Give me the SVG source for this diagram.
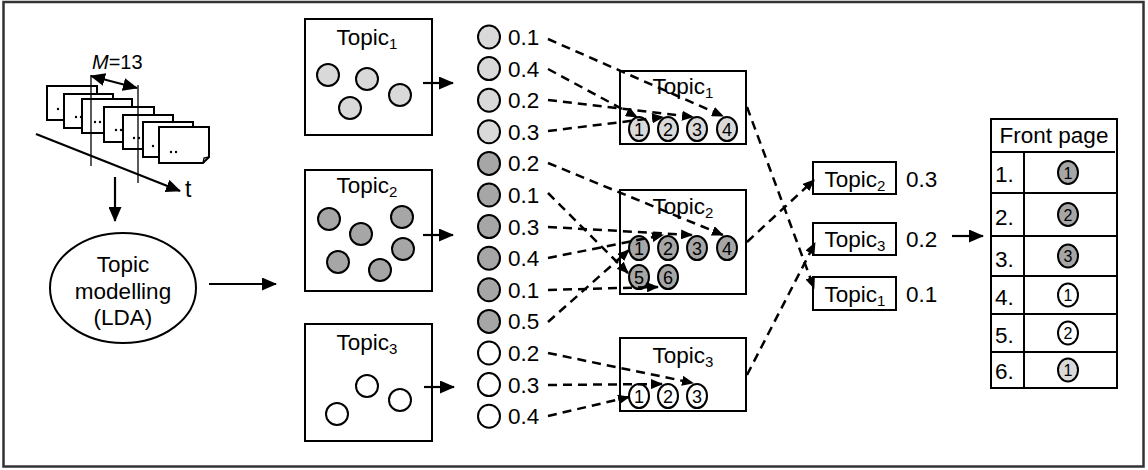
<svg xmlns="http://www.w3.org/2000/svg" width="1148" height="470" viewBox="0 0 1148 470">
  <style>
    text { font-family: "Liberation Sans", Arial, sans-serif; fill: #000; }
    .lbl { font-size: 22.5px; }
    .sub { font-size: 15px; }
    .num { font-size: 18px; text-anchor: middle; }
    .tnum { font-size: 16px; text-anchor: middle; }
    .box { fill: #fff; stroke: #000; stroke-width: 2; }
    .page { fill: #fff; stroke: #000; stroke-width: 2; }
    .light { fill: #d9d9d9; stroke: #000; stroke-width: 2; }
    .dark { fill: #a6a6a6; stroke: #000; stroke-width: 2; }
    .white { fill: #fff; stroke: #000; stroke-width: 2; }
    .solid { stroke: #000; stroke-width: 2.2; fill: none; marker-end: url(#arrow); }
    .dash { stroke: #000; stroke-width: 2.5; fill: none; stroke-dasharray: 9 6; marker-end: url(#arrowSmall); }
    .thin { stroke: #000; stroke-width: 1.3; fill: none; }
  </style>
  <defs>
    <marker id="arrow" markerUnits="userSpaceOnUse" viewBox="0 0 15 13" markerWidth="15" markerHeight="13" refX="14" refY="6.5" orient="auto-start-reverse">
      <path d="M0,0 L15,6.5 L0,13 Z" fill="#000"/>
    </marker>
    <marker id="arrowSmall" markerUnits="userSpaceOnUse" viewBox="0 0 12 10" markerWidth="12" markerHeight="10" refX="11" refY="5" orient="auto">
      <path d="M0,0 L12,5 L0,10 Z" fill="#000"/>
    </marker>
  </defs>

  <rect width="1148" height="470" fill="#fff"/>
  <!-- outer frame -->
  <rect x="3.5" y="2" width="1140" height="464.5" fill="none" stroke="#333" stroke-width="2.5"/>

  <!-- stream of documents over time -->
  <g id="documents">
    <line class="solid" x1="36" y1="134" x2="180" y2="191"/>
    <rect class="page" x="47" y="86" width="50" height="34"/>
    <rect class="page" x="64" y="94" width="49" height="34"/>
    <rect class="page" x="82" y="99" width="50" height="34"/>
    <rect class="page" x="104" y="107" width="50" height="35"/>
    <rect class="page" x="123" y="115" width="50" height="34"/>
    <rect class="page" x="143" y="122" width="50" height="35"/>
    <path class="page" d="M159,127 H209 V157 L203,163 H159 Z"/>
    <path class="thin" d="M203,163 L204,158 L209,157"/>
    <g fill="#000">
      <circle cx="58" cy="109" r="1.2"/>
      <circle cx="76" cy="117" r="1.2"/><circle cx="81" cy="117" r="1.2"/>
      <circle cx="95" cy="122" r="1.2"/><circle cx="100" cy="122" r="1.2"/>
      <circle cx="116" cy="130" r="1.2"/><circle cx="121" cy="130" r="1.2"/>
      <circle cx="134" cy="138" r="1.2"/><circle cx="139" cy="138" r="1.2"/>
      <circle cx="153" cy="146" r="1.2"/>
      <circle cx="171" cy="152" r="1.2"/><circle cx="176" cy="152" r="1.2"/>
    </g>
    <line class="thin" x1="91" y1="75" x2="91" y2="166"/>
    <line class="thin" x1="138" y1="85" x2="138" y2="183"/>
    <line stroke="#000" stroke-width="2" x1="91" y1="76" x2="137" y2="88" marker-start="url(#arrow)" marker-end="url(#arrow)"/>
    <text x="92" y="69" style="font-size:20px"><tspan font-style="italic">M</tspan>=13</text>
    <text x="185" y="197" style="font-size:23px">t</text>
    <line class="solid" x1="115" y1="177" x2="115" y2="221"/>
  </g>

  <!-- LDA topic model -->
  <g id="lda">
    <ellipse cx="123" cy="288" rx="73" ry="55" fill="#fff" stroke="#000" stroke-width="2"/>
    <text class="lbl" x="123" y="272" text-anchor="middle">Topic</text>
    <text class="lbl" x="123" y="299" text-anchor="middle">modelling</text>
    <text class="lbl" x="123" y="325" text-anchor="middle">(LDA)</text>
  </g>

  <!-- topics with their words -->
  <g id="topic1">
    <rect class="box" x="305" y="19" width="127" height="116"/>
    <text class="lbl" x="367" y="45" text-anchor="middle">Topic<tspan class="sub" dy="4">1</tspan></text>
    <circle class="light" cx="328" cy="75" r="11"/>
    <circle class="light" cx="367" cy="79" r="11"/>
    <circle class="light" cx="400" cy="95" r="11"/>
    <circle class="light" cx="350" cy="108" r="11"/>
  </g>
  <g id="topic2">
    <rect class="box" x="305" y="170" width="127" height="121"/>
    <text class="lbl" x="367" y="193" text-anchor="middle">Topic<tspan class="sub" dy="4">2</tspan></text>
    <circle class="dark" cx="329" cy="219" r="11"/>
    <circle class="dark" cx="402" cy="217" r="11"/>
    <circle class="dark" cx="361" cy="234" r="11"/>
    <circle class="dark" cx="403" cy="249" r="11"/>
    <circle class="dark" cx="338" cy="262" r="11"/>
    <circle class="dark" cx="380" cy="270" r="11"/>
  </g>
  <g id="topic3">
    <rect class="box" x="305" y="324" width="127" height="117"/>
    <text class="lbl" x="367" y="350" text-anchor="middle">Topic<tspan class="sub" dy="4">3</tspan></text>
    <circle class="white" cx="367" cy="386" r="11"/>
    <circle class="white" cx="400" cy="400" r="11"/>
    <circle class="white" cx="337" cy="414" r="11"/>
  </g>

  <!-- word probabilities -->
  <g id="word-probabilities">
    <ellipse class="light" cx="489" cy="37" rx="11" ry="11.5"/><text class="lbl" x="508" y="45">0.1</text>
    <ellipse class="light" cx="489" cy="68.6" rx="11" ry="11.5"/><text class="lbl" x="508" y="76.6">0.4</text>
    <ellipse class="light" cx="489" cy="100.2" rx="11" ry="11.5"/><text class="lbl" x="508" y="108.2">0.2</text>
    <ellipse class="light" cx="489" cy="131.8" rx="11" ry="11.5"/><text class="lbl" x="508" y="139.8">0.3</text>
    <ellipse class="dark" cx="489" cy="163.4" rx="11" ry="11.5"/><text class="lbl" x="508" y="171.4">0.2</text>
    <ellipse class="dark" cx="489" cy="195" rx="11" ry="11.5"/><text class="lbl" x="508" y="203">0.1</text>
    <ellipse class="dark" cx="489" cy="226.6" rx="11" ry="11.5"/><text class="lbl" x="508" y="234.6">0.3</text>
    <ellipse class="dark" cx="489" cy="258.2" rx="11" ry="11.5"/><text class="lbl" x="508" y="266.2">0.4</text>
    <ellipse class="dark" cx="489" cy="289.8" rx="11" ry="11.5"/><text class="lbl" x="508" y="297.8">0.1</text>
    <ellipse class="dark" cx="489" cy="321.4" rx="11" ry="11.5"/><text class="lbl" x="508" y="329.4">0.5</text>
    <ellipse class="white" cx="489" cy="353" rx="11" ry="11.5"/><text class="lbl" x="508" y="361">0.2</text>
    <ellipse class="white" cx="489" cy="384.6" rx="11" ry="11.5"/><text class="lbl" x="508" y="392.6">0.3</text>
    <ellipse class="white" cx="489" cy="416.2" rx="11" ry="11.5"/><text class="lbl" x="508" y="424.2">0.4</text>
  </g>

  <!-- ranked words per topic -->
  <g id="ranked-topic1">
    <rect class="box" x="620" y="71" width="126" height="73"/>
    <text class="lbl" x="683" y="94" text-anchor="middle">Topic<tspan class="sub" dy="4">1</tspan></text>
    <ellipse class="light" cx="639" cy="129" rx="10" ry="12"/><text class="num" x="639" y="135.5">1</text>
    <ellipse class="light" cx="668" cy="129" rx="10" ry="12"/><text class="num" x="668" y="135.5">2</text>
    <ellipse class="light" cx="697" cy="129" rx="10" ry="12"/><text class="num" x="697" y="135.5">3</text>
    <ellipse class="light" cx="727" cy="129" rx="10" ry="12"/><text class="num" x="727" y="135.5">4</text>
  </g>
  <g id="ranked-topic2">
    <rect class="box" x="620" y="190" width="126" height="104"/>
    <text class="lbl" x="683" y="214" text-anchor="middle">Topic<tspan class="sub" dy="4">2</tspan></text>
    <ellipse class="dark" cx="639" cy="248" rx="10" ry="12"/><text class="num" x="639" y="254.5">1</text>
    <ellipse class="dark" cx="668" cy="248" rx="10" ry="12"/><text class="num" x="668" y="254.5">2</text>
    <ellipse class="dark" cx="697" cy="248" rx="10" ry="12"/><text class="num" x="697" y="254.5">3</text>
    <ellipse class="dark" cx="727" cy="248" rx="10" ry="12"/><text class="num" x="727" y="254.5">4</text>
    <ellipse class="dark" cx="639" cy="277" rx="10" ry="12"/><text class="num" x="639" y="283.5">5</text>
    <ellipse class="dark" cx="668" cy="277" rx="10" ry="12"/><text class="num" x="668" y="283.5">6</text>
  </g>
  <g id="ranked-topic3">
    <rect class="box" x="620" y="338" width="126" height="73"/>
    <text class="lbl" x="683" y="363" text-anchor="middle">Topic<tspan class="sub" dy="4">3</tspan></text>
    <ellipse class="white" cx="639" cy="396" rx="10" ry="12"/><text class="num" x="639" y="402.5">1</text>
    <ellipse class="white" cx="668" cy="396" rx="10" ry="12"/><text class="num" x="668" y="402.5">2</text>
    <ellipse class="white" cx="697" cy="396" rx="10" ry="12"/><text class="num" x="697" y="402.5">3</text>
  </g>

  <!-- topic ranking -->
  <g id="rank-topic2">
    <rect class="box" x="813" y="162" width="83" height="32"/>
    <text class="lbl" x="855" y="187" text-anchor="middle">Topic<tspan class="sub" dy="4">2</tspan></text>
    <text class="lbl" x="906" y="187">0.3</text>
  </g>
  <g id="rank-topic3">
    <rect class="box" x="813" y="223" width="83" height="32"/>
    <text class="lbl" x="855" y="247" text-anchor="middle">Topic<tspan class="sub" dy="4">3</tspan></text>
    <text class="lbl" x="906" y="247">0.2</text>
  </g>
  <g id="rank-topic1">
    <rect class="box" x="813" y="277" width="83" height="33"/>
    <text class="lbl" x="855" y="302" text-anchor="middle">Topic<tspan class="sub" dy="4">1</tspan></text>
    <text class="lbl" x="906" y="302">0.1</text>
  </g>

  <!-- front page table -->
  <g id="front-page">
    <rect class="box" x="991" y="119" width="126" height="269"/>
    <text class="lbl" x="1054" y="143" text-anchor="middle">Front page</text>
    <line stroke="#000" stroke-width="2" x1="991" y1="152" x2="1115" y2="152"/>
    <line stroke="#000" stroke-width="2" x1="1024" y1="152" x2="1024" y2="388"/>
    <g stroke="#000" stroke-width="2">
      <line x1="991" y1="193" x2="1117" y2="193"/>
      <line x1="991" y1="236" x2="1117" y2="236"/>
      <line x1="991" y1="276" x2="1117" y2="276"/>
      <line x1="991" y1="314" x2="1117" y2="314"/>
      <line x1="991" y1="352" x2="1117" y2="352"/>
    </g>
    <text class="lbl" x="995" y="182">1.</text>
    <text class="lbl" x="995" y="225">2.</text>
    <text class="lbl" x="995" y="267">3.</text>
    <text class="lbl" x="995" y="305">4.</text>
    <text class="lbl" x="995" y="343">5.</text>
    <text class="lbl" x="995" y="379">6.</text>
    <ellipse class="dark" cx="1068" cy="172.5" rx="10" ry="11.5"/><text class="tnum" x="1068" y="178.5">1</text>
    <ellipse class="dark" cx="1068" cy="214.5" rx="10" ry="11.5"/><text class="tnum" x="1068" y="220.5">2</text>
    <ellipse class="dark" cx="1068" cy="256" rx="10" ry="11.5"/><text class="tnum" x="1068" y="262">3</text>
    <ellipse class="white" cx="1068" cy="295" rx="10" ry="11.5"/><text class="tnum" x="1068" y="301">1</text>
    <ellipse class="white" cx="1068" cy="333" rx="10" ry="11.5"/><text class="tnum" x="1068" y="339">2</text>
    <ellipse class="light" cx="1068" cy="370" rx="10" ry="11.5"/><text class="tnum" x="1068" y="376">1</text>
  </g>

  <!-- connectors -->
  <g id="connectors">
    <line class="solid" x1="209" y1="284" x2="276" y2="284"/>
    <line class="solid" x1="423" y1="83" x2="453" y2="83"/>
    <line class="solid" x1="423" y1="235" x2="453" y2="235"/>
    <line class="solid" x1="424" y1="387" x2="454" y2="387"/>
    <line class="solid" x1="952" y1="236" x2="983" y2="236"/>

    <!-- topic 1 words to ranks -->
    <line class="dash" x1="548" y1="39" x2="723" y2="116"/>
    <line class="dash" x1="548" y1="69" x2="637" y2="117"/>
    <line class="dash" x1="548" y1="100" x2="693" y2="117"/>
    <line class="dash" x1="548" y1="131" x2="663" y2="117"/>
    <!-- topic 2 words to ranks -->
    <line class="dash" x1="548" y1="163" x2="723" y2="235"/>
    <line class="dash" x1="548" y1="193" x2="628" y2="273"/>
    <line class="dash" x1="548" y1="227" x2="692" y2="235"/>
    <line class="dash" x1="548" y1="258" x2="663" y2="235"/>
    <line class="dash" x1="548" y1="290" x2="658" y2="287"/>
    <line class="dash" x1="548" y1="322" x2="629" y2="250"/>
    <!-- topic 3 words to ranks -->
    <line class="dash" x1="548" y1="353" x2="693" y2="383"/>
    <line class="dash" x1="548" y1="385" x2="662" y2="384"/>
    <line class="dash" x1="548" y1="416" x2="629" y2="397"/>
    <!-- topics to topic ranking -->
    <line class="dash" x1="747" y1="107" x2="814" y2="288"/>
    <line class="dash" x1="747" y1="242" x2="814" y2="180"/>
    <line class="dash" x1="747" y1="375" x2="815" y2="243"/>
  </g>
</svg>
